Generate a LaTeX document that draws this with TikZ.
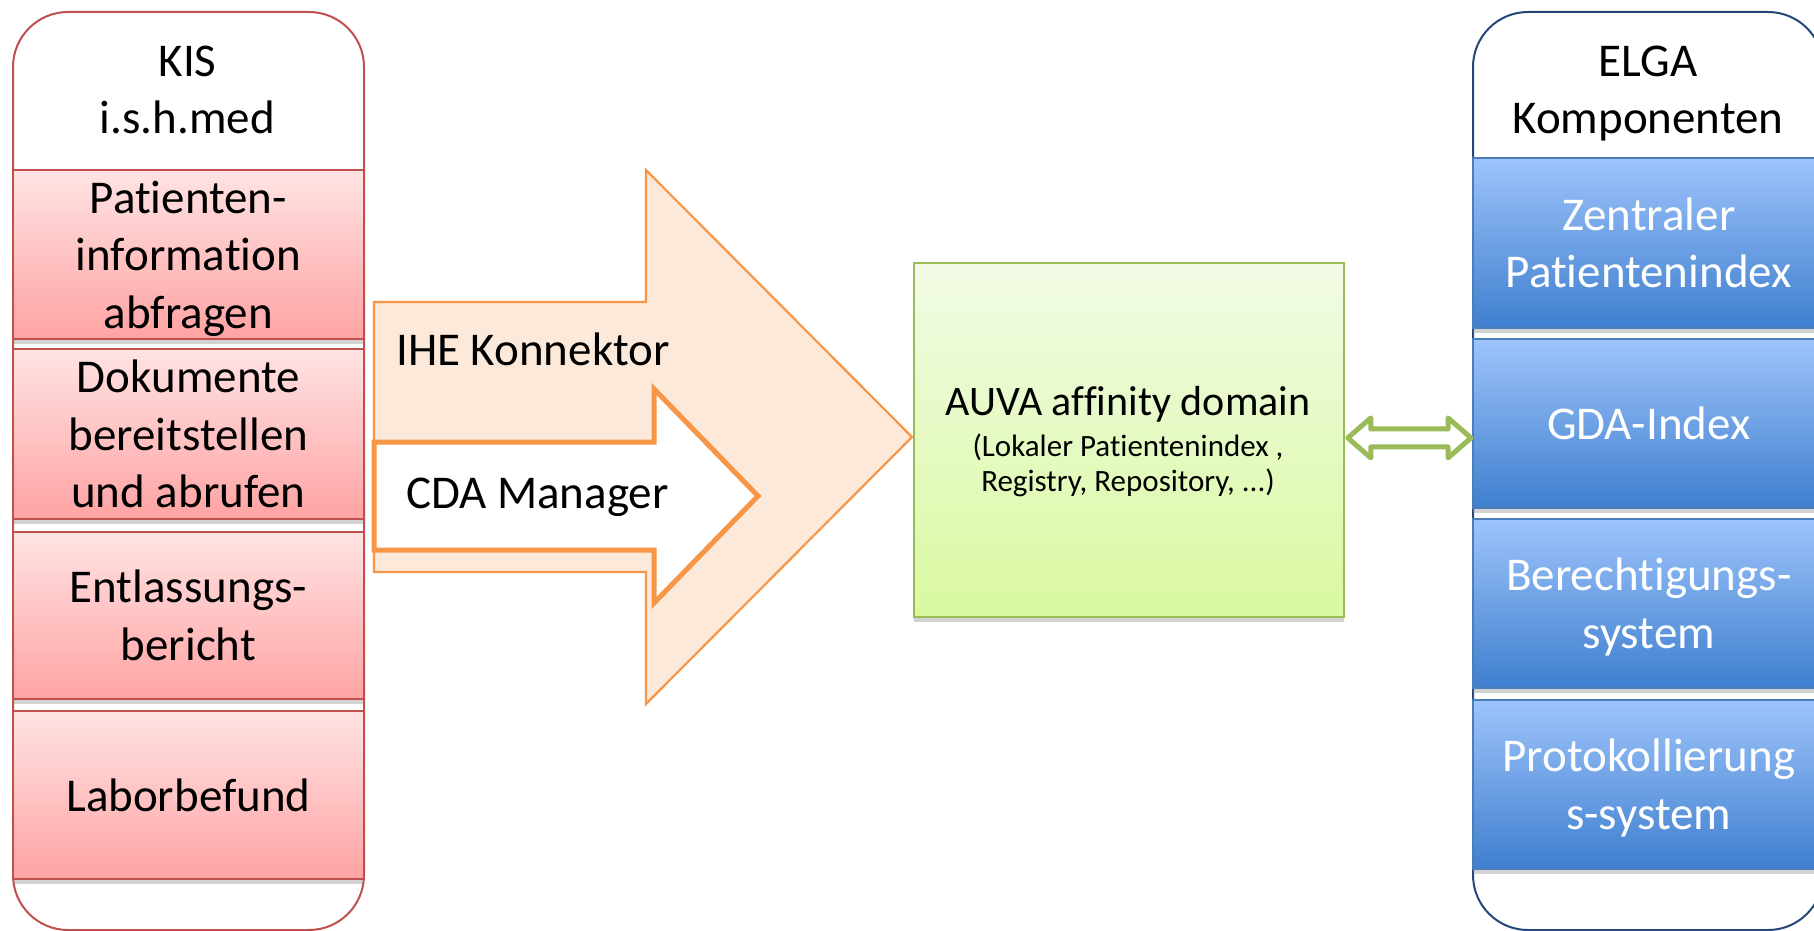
\documentclass[tikz,border=0pt]{standalone}
\usepackage{fontspec}
\setmainfont{Carlito}[Ligatures=NoCommon]
\usetikzlibrary{shadows,calc}

\definecolor{kisred}{HTML}{C0504D}
\definecolor{redtop}{HTML}{FFE3E3}
\definecolor{redbot}{HTML}{FFA3A3}
\definecolor{bluetop}{HTML}{9DC4FB}
\definecolor{bluebot}{HTML}{3F7FCE}
\definecolor{blueline}{HTML}{4A7DBA}
\definecolor{navy}{HTML}{24487A}
\definecolor{orangeline}{HTML}{F79646}
\definecolor{peach}{HTML}{FDE9D9}
\definecolor{greentop}{HTML}{F2FBE6}
\definecolor{greenbot}{HTML}{D9F9A0}
\definecolor{greenline}{HTML}{9BBB59}

\tikzset{
  bigfont/.style={font=\fontsize{47}{57.5}\selectfont},
  panel/.style={rounded corners=55pt, line width=2pt, fill=white, inner sep=0pt, anchor=north west},
  boxshadow/.style={drop shadow={opacity=0.35, shadow xshift=0pt, shadow yshift=-5pt}},
  redbox/.style={draw=kisred, line width=1.8pt, top color=redtop, bottom color=redbot,
    minimum width=351pt, inner sep=0pt, align=center, bigfont, text depth=0pt,
    anchor=north west, boxshadow},
  bluebox/.style={draw=blueline, line width=1.5pt, top color=bluetop, bottom color=bluebot,
    minimum width=352pt, inner sep=0pt, align=center, bigfont, text=white, text depth=0pt,
    anchor=north west, boxshadow},
  titletext/.style={align=center, bigfont, text depth=0pt, inner sep=0pt},
  greenbox/.style={draw=greenline, line width=1.8pt, top color=greentop, bottom color=greenbot,
    minimum width=430pt, minimum height=354pt, inner sep=0pt, anchor=north west, boxshadow},
  bigarrow/.style={draw=orangeline, line width=2.2pt, fill=peach, line join=miter},
  smallarrow/.style={draw=orangeline, line width=5pt, fill=white, line join=miter},
  dblarrow/.style={draw=greenline, line width=5pt, fill=white, line join=round},
}

\begin{document}
\begin{tikzpicture}[x=1pt, y=-1pt]
\useasboundingbox (0,0) rectangle (1814,931);
\clip (0,0) rectangle (1814,931);
\fill[white] (0,0) rectangle (1814,931);

% left panel
\node[panel, draw=kisred, minimum width=351pt, minimum height=918pt] (kis) at (12,11) {};
\node[titletext] (kistitle) at (187.5,89.5) {KIS\\i.s.h.med};
\node[redbox, minimum height=169pt] (r1) at (12,169) {Patienten-\\information\\abfragen};
\node[redbox, minimum height=170pt] (r2) at (12,348) {Dokumente\\bereitstellen\\und abrufen};
\node[redbox, minimum height=167pt] (r3) at (12,531) {Entlassungs-\\bericht};
\node[redbox, minimum height=168pt] (r4) at (12,710) {Laborbefund};

% right panel
\node[panel, draw=navy, minimum width=350pt, minimum height=918pt] (elga) at (1472,11) {};
\node[titletext] (elgatitle) at (1648,89.5) {ELGA\\Komponenten};
\node[bluebox, minimum height=170pt] (b1) at (1472,157) {Zentraler\\Patientenindex};
\node[bluebox, minimum height=169pt] (b2) at (1472,338) {GDA-Index};
\node[bluebox, minimum height=169pt] (b3) at (1472,518) {Berechtigungs-\\system};
\node[bluebox, minimum height=169pt] (b4) at (1472,699) {Protokollierung\\s-system};

% arrows
\draw[bigarrow] (374,302) -- (646,302) -- (646,170) -- (912,437) -- (646,704) -- (646,572) -- (374,572) -- cycle;
\draw[smallarrow] (374,442) -- (654,442) -- (654,389) -- (758,496) -- (654,603) -- (654,550) -- (374,550) -- cycle;
\node[bigfont, anchor=base west, inner sep=0pt] (ihe) at (396,365) {IHE Konnektor};
\node[bigfont, anchor=base west, inner sep=0pt] (cda) at (406,508) {CDA Manager};

% AUVA box
\node[greenbox] (auva) at (913,262) {};
\node[font=\fontsize{42}{42}\selectfont, anchor=base, inner sep=0pt] (auvatitle) at (1128,415) {AUVA affinity domain};
\node[font=\fontsize{31}{35}\selectfont, align=center, text depth=0pt, inner sep=0pt] (auvasub) at (1128,463)
  {(Lokaler Patientenindex ,\\Registry, Repository, ...)};

% double arrow between AUVA and ELGA
\coordinate (dl) at ($(auva.east)+(3,-2)$);
\coordinate (dr) at ($(dl -| b2.west)+(-1,0)$);
\draw[dblarrow] (dl) -- ++(23,-20) -- ++(0,11) -- ($(dr)+(-23,-9)$) -- ++(0,-11) -- (dr)
  -- ++(-23,20) -- ++(0,-11) -- ($(dl)+(23,9)$) -- ++(0,11) -- cycle;
\end{tikzpicture}
\end{document}
